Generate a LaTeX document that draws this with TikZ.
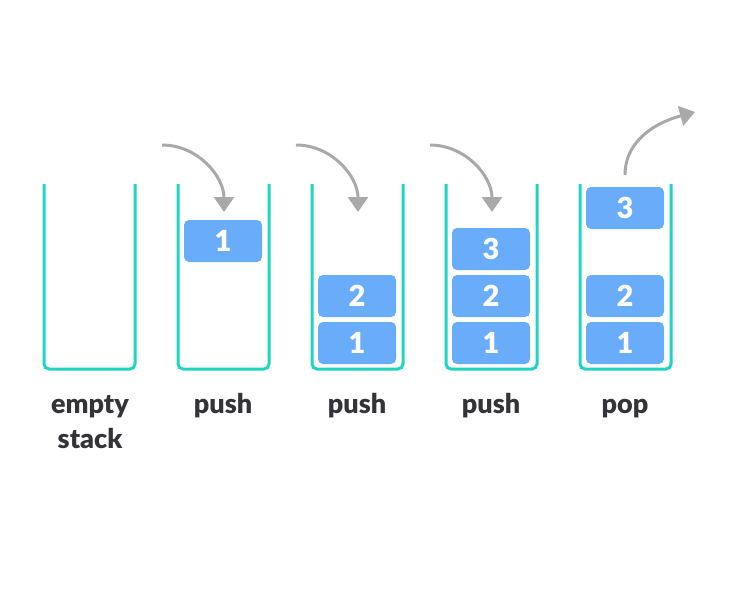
\documentclass[tikz,border=0pt]{standalone}
\usepackage{fontspec}
\setmainfont{Lato}[BoldFont={Lato Black}]
\usetikzlibrary{arrows.meta}

\definecolor{stackteal}{HTML}{1FD5C2}
\definecolor{itemblue}{HTML}{68ACFA}
\definecolor{arrowgray}{HTML}{A9A9A9}
\definecolor{labelgray}{HTML}{333338}

\tikzset{
  wall/.style={draw=stackteal,line width=3pt,rounded corners=5pt},
  item/.style={shape=rectangle,fill=itemblue,rounded corners=5pt,minimum width=78pt,minimum height=42pt,inner sep=0pt,text=white,font=\fontsize{29}{29}\selectfont\bfseries},
  caption/.style={align=center,anchor=base,text=labelgray,font=\fontsize{27}{35}\selectfont\bfseries},
  move/.style={draw=arrowgray,line width=3pt,-{Triangle[length=15pt,width=20pt]}}
}

\begin{document}
\begin{tikzpicture}[x=1pt,y=-1pt]
\useasboundingbox (0,0) rectangle (735,610);

\draw[wall] (44,184) -- (44,369) -- (135,369) -- (135,184);
\draw[wall] (178,184) -- (178,369) -- (269,369) -- (269,184);
\draw[wall] (312,184) -- (312,369) -- (403,369) -- (403,184);
\draw[wall] (446,184) -- (446,369) -- (537,369) -- (537,184);
\draw[wall] (580,184) -- (580,369) -- (671,369) -- (671,184);

\node[item] (b1a) at (223,241) {1};

\node[item] (b2a) at (357,343) {1};
\node[item] (b2b) at (357,296) {2};

\node[item] (b3a) at (491,343) {1};
\node[item] (b3b) at (491,296) {2};
\node[item] (b3c) at (491,249) {3};

\node[item] (b4a) at (625,343) {1};
\node[item] (b4b) at (625,296) {2};
\node[item] (b4c) at (625,208) {3};

\node[caption] (l0) at (90,448) {empty\\stack};
\node[caption] (l1) at (223,413) {push};
\node[caption] (l2) at (357,413) {push};
\node[caption] (l3) at (491,413) {push};
\node[caption] (l4) at (625,413) {pop};

\coordinate (p1s) at (162,145);
\coordinate (p1e) at (224,212);
\coordinate (p2s) at (296,145);
\coordinate (p2e) at (358,212);
\coordinate (p3s) at (430,145);
\coordinate (p3e) at (492,212);
\coordinate (p4s) at (625,175);
\coordinate (p4e) at (695,112);

\draw[move] (p1s) to[out=0,in=90] (p1e);
\draw[move] (p2s) to[out=0,in=90] (p2e);
\draw[move] (p3s) to[out=0,in=90] (p3e);
\draw[move] (p4s) to[out=90,in=195] (p4e);
\end{tikzpicture}
\end{document}
